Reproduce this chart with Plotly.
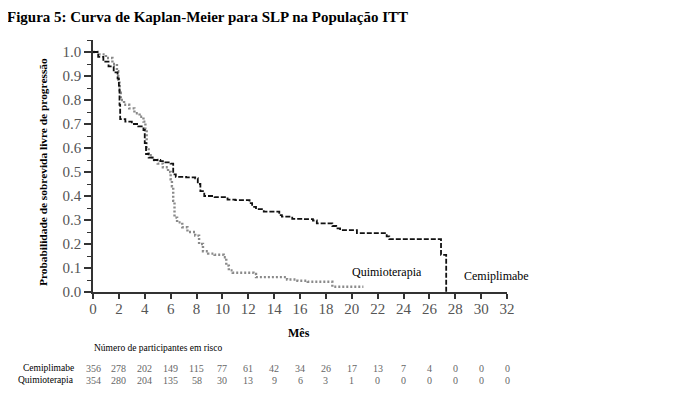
import plotly.graph_objects as go

# ---- data ----
cemi_t = [0, 0.4, 0.8, 1.2, 1.6, 1.9, 2.0, 2.05, 2.1, 2.5, 3.0, 3.5, 3.9, 4.0, 4.1, 4.3, 4.7, 5.2, 5.6,
          6.0, 6.2, 6.4, 7.2, 7.9, 8.1, 8.3, 8.6, 9.4, 10.2, 10.4, 11.0, 12.1, 12.3, 12.6, 13.2, 14.4,
          14.6, 15.4, 16.3, 17.0, 17.3, 18.5, 18.8, 19.1, 20.4, 22.7, 22.9, 26.9, 27.3]
cemi_s = [1.0, 0.98, 0.96, 0.94, 0.915, 0.89, 0.86, 0.78, 0.72, 0.71, 0.70, 0.69, 0.675, 0.62, 0.575,
          0.56, 0.55, 0.545, 0.54, 0.535, 0.49, 0.48, 0.478, 0.474, 0.45, 0.42, 0.40, 0.395, 0.39,
          0.385, 0.383, 0.37, 0.355, 0.345, 0.335, 0.32, 0.314, 0.305, 0.304, 0.298, 0.286, 0.275,
          0.265, 0.258, 0.245, 0.232, 0.22, 0.155, 0.0]

quimio_t = [0, 0.5, 1.0, 1.5, 1.85, 1.95, 2.05, 2.15, 2.4, 2.8, 3.2, 3.6, 3.9, 4.05, 4.15, 4.3, 4.6,
            5.0, 5.4, 5.8, 6.0, 6.1, 6.2, 6.3, 6.5, 6.9, 7.3, 7.9, 8.2, 8.5, 8.9, 9.4, 10.1, 10.3,
            10.5, 10.8, 12.4, 12.6, 15.0, 15.8, 16.6, 18.5, 20.9]
quimio_s = [1.0, 0.99, 0.975, 0.95, 0.92, 0.88, 0.83, 0.80, 0.78, 0.765, 0.745, 0.73, 0.71, 0.68,
            0.60, 0.57, 0.55, 0.535, 0.52, 0.50, 0.47, 0.44, 0.38, 0.31, 0.29, 0.27, 0.25, 0.235,
            0.20, 0.17, 0.16, 0.155, 0.145, 0.11, 0.09, 0.08, 0.075, 0.062, 0.052, 0.047, 0.043,
            0.022, 0.022]

risk_months = [0, 2, 4, 6, 8, 10, 12, 14, 16, 18, 20, 22, 24, 26, 28, 30, 32]
risk_cemi = [356, 278, 202, 149, 115, 77, 61, 42, 34, 26, 17, 13, 7, 4, 0, 0, 0]
risk_quimio = [354, 280, 204, 135, 58, 30, 13, 9, 6, 3, 1, 0, 0, 0, 0, 0, 0]

title_text = "Figura 5: Curva de Kaplan-Meier para SLP na População ITT"
ytitle = "Probabilidade de sobrevida livre de progressão"
xtitle = "Mês"
risk_title = "Número de participantes em risco"
names = ["Cemiplimabe", "Quimioterapia"]

SERIF = "Liberation Serif, Times New Roman, serif"

fig = go.Figure()
fig.add_trace(go.Scatter(x=quimio_t, y=quimio_s, mode="lines", line_shape="hv",
                         line=dict(color="#8a8a8a", width=2.4, dash="2px,2px"), name=names[1]))
fig.add_trace(go.Scatter(x=cemi_t, y=cemi_s, mode="lines", line_shape="hv",
                         line=dict(color="#111111", width=1.8, dash="5px,2px"), name=names[0]))

# page body has an 8px margin; target pixel coordinates are corrected by OFF
OFF = 8
FW, FH = 688 - OFF, 393 - OFF
L, R, T, B = 93, 507, 40, 292
W = R - L
H = B - T

def px(xp):
    return (xp - L) / W

def py(yp):
    return (B - yp) / H

ann = []
ann.append(dict(text="<b>" + title_text + "</b>", x=px(5), y=py(17), xref="paper", yref="paper",
                xanchor="left", yanchor="middle", showarrow=False,
                font=dict(family=SERIF, size=15, color="#000")))
ann.append(dict(text="<b>" + ytitle + "</b>", x=px(43), y=py(172), xref="paper", yref="paper",
                xanchor="center", yanchor="middle", textangle=-90, showarrow=False,
                font=dict(family=SERIF, size=11.4, color="#000")))
ann.append(dict(text="<b>" + xtitle + "</b>", x=px(299), y=py(333), xref="paper", yref="paper",
                xanchor="center", yanchor="middle", showarrow=False,
                font=dict(family=SERIF, size=12, color="#000")))
ann.append(dict(text="Quimioterapia", x=22.7, y=0.085, xref="x", yref="y",
                xanchor="center", yanchor="middle", showarrow=False,
                font=dict(family=SERIF, size=12, color="#000")))
ann.append(dict(text="Cemiplimabe", x=31.2, y=0.067, xref="x", yref="y",
                xanchor="center", yanchor="middle", showarrow=False,
                font=dict(family=SERIF, size=12, color="#000")))
ann.append(dict(text=risk_title, x=px(92), y=py(348), xref="paper", yref="paper",
                xanchor="left", yanchor="middle", showarrow=False,
                font=dict(family=SERIF, size=9.5, color="#000")))
for name, yy in zip(names, [368, 380]):
    ann.append(dict(text=name, x=px(76), y=py(yy), xref="paper", yref="paper",
                    xanchor="right", yanchor="middle", showarrow=False,
                    font=dict(family=SERIF, size=9.5, color="#000")))
for vals, yy in zip([risk_cemi, risk_quimio], [368, 380]):
    for m, v in zip(risk_months, vals):
        ann.append(dict(text=str(v), x=m, y=py(yy), xref="x", yref="paper",
                        xanchor="center", yanchor="middle", showarrow=False,
                        font=dict(family=SERIF, size=10, color="#666")))

fig.update_layout(
    width=FW, height=FH,
    margin=dict(l=L - OFF, r=688 - R, t=T - OFF, b=393 - B, pad=0),
    paper_bgcolor="white", plot_bgcolor="white",
    showlegend=False,
    annotations=ann,
    xaxis=dict(range=[0, 32], tick0=0, dtick=2, showgrid=False, zeroline=False,
               showline=True, linecolor="#333", linewidth=1.5,
               ticks="outside", ticklen=5, tickwidth=1.5, tickcolor="#333",
               ticklabelstandoff=-3,
               tickfont=dict(family=SERIF, size=15, color="#555")),
    yaxis=dict(range=[0, 1.05], tick0=0, dtick=0.1, tickformat=".1f", showgrid=False, zeroline=False,
               showline=True, linecolor="#333", linewidth=1.5,
               ticks="outside", ticklen=7, tickwidth=1.5, tickcolor="#333",
               minor=dict(dtick=0.05, ticklen=4, tickwidth=1, tickcolor="#333", ticks="outside"),
               tickfont=dict(family=SERIF, size=15, color="#555")),
)

fig.write_html("out.html")
